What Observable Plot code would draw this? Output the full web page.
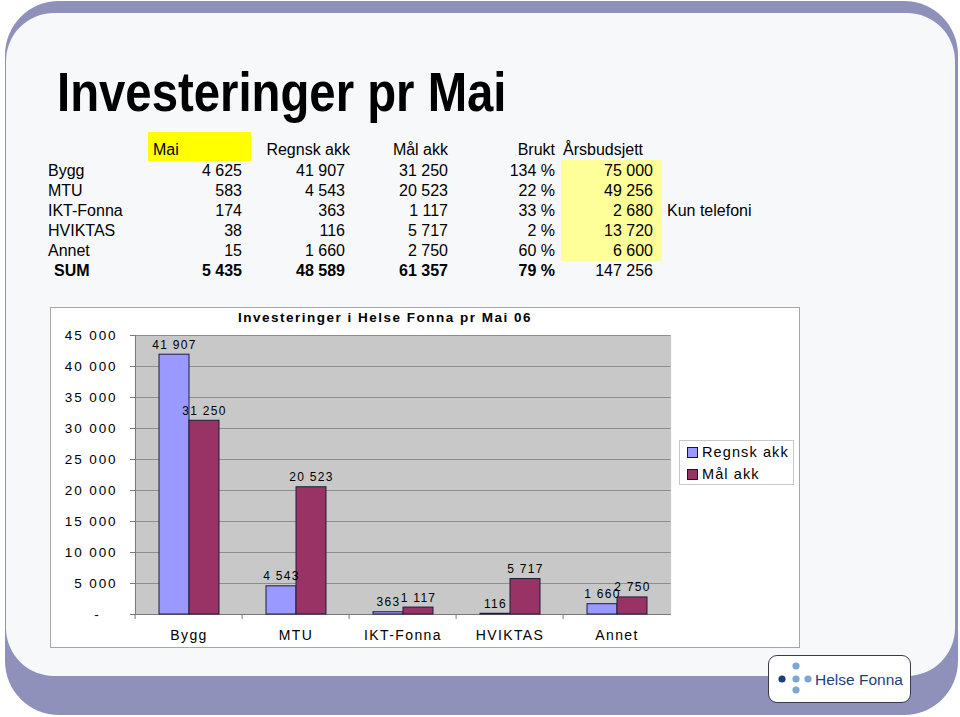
<!DOCTYPE html>
<html>
<head>
<meta charset="utf-8">
<script src="https://cdn.jsdelivr.net/npm/d3@7"></script>
<script src="https://cdn.jsdelivr.net/npm/@observablehq/plot@0.6"></script>
<style>
  body { margin: 0; background: #ffffff; font-family: "Liberation Sans", Arial, sans-serif; }
  #page { position: relative; width: 960px; height: 717px; overflow: hidden; background: #ffffff; }
  .outer { position: absolute; left: 5px; top: 1px; width: 953px; height: 714px; border-radius: 54px; background: #8f91bb; }
  .inner { position: absolute; left: 6px; top: 13px; width: 949px; height: 663px; border-radius: 48px; background: #f7f8fa; }
  .title { position: absolute; left: 57px; top: 65px; font-size: 55px; line-height: 55px; font-weight: bold; color: #000;
           white-space: nowrap; transform: scaleX(0.86); transform-origin: 0 0; }
  .cell { position: absolute; font-size: 16px; line-height: 20px; height: 20px; white-space: nowrap; color: #000; }
  .r { text-align: right; }
  .box { position: absolute; }
  #chart { position: absolute; left: 50px; top: 307px; width: 750px; height: 341px; background: #fff; }
  #chartBorder { position: absolute; left: 50px; top: 307px; border: 1px solid #a6a6a6; box-sizing: border-box; pointer-events: none; width: 750px; height: 341px; }
  #chartTitle { position: absolute; left: 185px; top: 310px; width: 400px; text-align: center; font-size: 13.5px; line-height: 16px;
                font-weight: bold; letter-spacing: 1.5px; color: #000; white-space: nowrap; }
  #legend { position: absolute; left: 679px; top: 440px; width: 115px; height: 45px; background: #fff; border: 1px solid #c8c8c8; box-sizing: border-box; }
  .lg { position: absolute; left: 7px; font-size: 14.5px; line-height: 18px; letter-spacing: 1.1px; white-space: nowrap; }
  .sw { display: inline-block; width: 11px; height: 11px; border: 1px solid #1a1a1a; box-sizing: border-box; margin-right: 4px; vertical-align: -1px; }
  #logo { position: absolute; left: 768px; top: 655px; width: 143px; height: 48px; background: #fff; border: 1.5px solid #3a3a4a; border-radius: 9px; box-sizing: border-box; }
  #chart svg [aria-label="y-axis tick label"] text { letter-spacing: 1.9px; }
  #chart svg [aria-label="fx-axis tick label"] text { letter-spacing: 1.4px; }
  #chart svg [aria-label="text"] text { letter-spacing: 1.3px; }
</style>
</head>
<body>
<div id="page">
  <div class="outer"></div>
  <div class="inner"></div>
  <div class="title">Investeringer pr Mai</div>
  <div id="table"></div>
  <div id="chart"></div>
  <div id="chartBorder"></div>
  <div id="chartTitle">Investeringer i Helse Fonna pr Mai 06</div>
  <div id="legend"></div>
  <div id="logo">
    <svg width="143" height="48" style="position:absolute;left:-1.5px;top:-1.5px">
      <circle cx="28" cy="11" r="3.6" fill="#7fa6d2"/>
      <circle cx="14" cy="24" r="3.6" fill="#1f3f7a"/>
      <circle cx="28" cy="24" r="3.6" fill="#7fa6d2"/>
      <circle cx="40" cy="24" r="3.6" fill="#7fa6d2"/>
      <circle cx="28" cy="35" r="3.6" fill="#7fa6d2"/>
      <text x="47" y="29.5" font-family="Liberation Sans, Arial, sans-serif" font-size="15.5" fill="#1f3f7a">Helse Fonna</text>
    </svg>
  </div>
</div>
<script>
// ---------- data ----------
const categories = ["Bygg", "MTU", "IKT-Fonna", "HVIKTAS", "Annet"];
const regnskAkk = [41907, 4543, 363, 116, 1660];
const malAkk = [31250, 20523, 1117, 5717, 2750];
const seriesNames = ["Regnsk akk", "Mål akk"];
const seriesColors = ["#9999ff", "#993366"];
const yTicks = [0, 5000, 10000, 15000, 20000, 25000, 30000, 35000, 40000, 45000];

const tableHeaders = ["Mai", "Regnsk akk", "Mål akk", "Brukt", "Årsbudsjett"];
const rowLabels = ["Bygg", "MTU", "IKT-Fonna", "HVIKTAS", "Annet", "SUM"];
const maiValues = [4625, 583, 174, 38, 15, 5435];
const regnskValues = [41907, 4543, 363, 116, 1660, 48589];
const malValues = [31250, 20523, 1117, 5717, 2750, 61357];
const bruktValues = [134, 22, 33, 2, 60, 79];
const budsjettValues = [75000, 49256, 2680, 13720, 6600, 147256];
const notes = ["", "", "Kun telefoni", "", "", ""];

// ---------- helpers ----------
const fmt = v => d3.format(",")(v).replace(/,/g, "\u00a0");
function add(parent, cls, css, text) {
  const el = document.createElement("div");
  el.className = cls;
  Object.assign(el.style, css);
  if (text !== undefined) el.textContent = text;
  parent.appendChild(el);
  return el;
}

// ---------- table ----------
const tbl = document.getElementById("table");
add(tbl, "box", {left: "148px", top: "132px", width: "103px", height: "29px", background: "#ffff00"});
add(tbl, "box", {left: "561px", top: "160px", width: "101px", height: "101px", background: "#ffff99"});
add(tbl, "cell", {left: "153px", top: "140px"}, tableHeaders[0]);
add(tbl, "cell r", {left: "250px", width: "100px", top: "140px"}, tableHeaders[1]);
add(tbl, "cell r", {left: "348px", width: "100px", top: "140px"}, tableHeaders[2]);
add(tbl, "cell r", {left: "455px", width: "100px", top: "140px"}, tableHeaders[3]);
add(tbl, "cell", {left: "563px", top: "140px"}, tableHeaders[4]);
rowLabels.forEach((lab, i) => {
  const top = (161 + i * 20) + "px";
  const isSum = lab === "SUM";
  const fw = isSum ? "bold" : "normal";
  add(tbl, "cell", {left: isSum ? "54px" : "48px", top, fontWeight: fw}, lab);
  add(tbl, "cell r", {left: "142px", width: "100px", top, fontWeight: fw}, fmt(maiValues[i]));
  add(tbl, "cell r", {left: "245px", width: "100px", top, fontWeight: fw}, fmt(regnskValues[i]));
  add(tbl, "cell r", {left: "348px", width: "100px", top, fontWeight: fw}, fmt(malValues[i]));
  add(tbl, "cell r", {left: "455px", width: "100px", top, fontWeight: fw}, bruktValues[i] + "\u00a0%");
  add(tbl, "cell r", {left: "553px", width: "100px", top}, fmt(budsjettValues[i]));
  if (notes[i]) add(tbl, "cell", {left: "667px", top}, notes[i]);
});

// ---------- chart ----------
const data = categories.flatMap((c, i) => [
  {cat: c, series: seriesNames[0], value: regnskAkk[i]},
  {cat: c, series: seriesNames[1], value: malAkk[i]}
]);

const W = 750, H = 341, ML = 83, MR = 128, MT = 28, MB = 34;
const halfBand = (W - ML - MR) / categories.length / 2;

const chart = Plot.plot({
  width: W, height: H,
  marginLeft: ML, marginRight: MR, marginTop: MT, marginBottom: MB,
  style: {background: "transparent", fontFamily: "Liberation Sans, Arial, sans-serif", letterSpacing: "1px", overflow: "visible", color: "#000"},
  fx: {domain: categories, padding: 0, label: null, axis: null},
  x: {domain: seriesNames, paddingInner: 0, paddingOuter: 0.742, axis: null},
  y: {domain: [0, 45000], axis: null, label: null},
  color: {domain: seriesNames, range: seriesColors},
  marks: [
    Plot.frame({fill: "#c8c8c8", insetLeft: -0.6, insetRight: -0.6}),
    Plot.gridY(yTicks, {stroke: "#8e8e8e", strokeOpacity: 1, insetLeft: -0.6, insetRight: -0.6}),
    Plot.axisY(yTicks, {
      label: null,
      tickFormat: d => d === 0 ? "-\u00a0\u00a0\u00a0" : fmt(d),
      tickSize: 5, tickPadding: 13, fontSize: 13.5, stroke: "#7a7a7a", fill: "#000"
    }),
    Plot.frame({anchor: "left", stroke: "#7a7a7a", facetAnchor: "left"}),
    Plot.ruleY([0], {stroke: "#7a7a7a", insetLeft: -0.6, insetRight: -0.6}),
    Plot.barY(data, {fx: "cat", x: "series", y: "value", fill: "series", stroke: "#1c1c3a", strokeWidth: 1}),
    Plot.text(data, {fx: "cat", x: "series", y: "value", text: d => fmt(d.value),
      lineAnchor: "bottom", dy: -6, fontSize: 12, fill: "#000"}),
    Plot.axisFx({anchor: "bottom", label: null, tickSize: 0, tickPadding: 16, fontSize: 14, fill: "#000"}),
    Plot.axisFx({anchor: "bottom", label: null, tickSize: 5, tickFormat: () => "", dx: -halfBand, stroke: "#7a7a7a"})
  ]
});
document.getElementById("chart").appendChild(chart);

// ---------- legend ----------
const legend = document.getElementById("legend");
seriesNames.forEach((name, i) => {
  const row = add(legend, "lg", {top: (2 + i * 22) + "px"});
  const sw = document.createElement("span");
  sw.className = "sw";
  sw.style.background = seriesColors[i];
  row.appendChild(sw);
  row.appendChild(document.createTextNode(name));
});
</script>
</body>
</html>
